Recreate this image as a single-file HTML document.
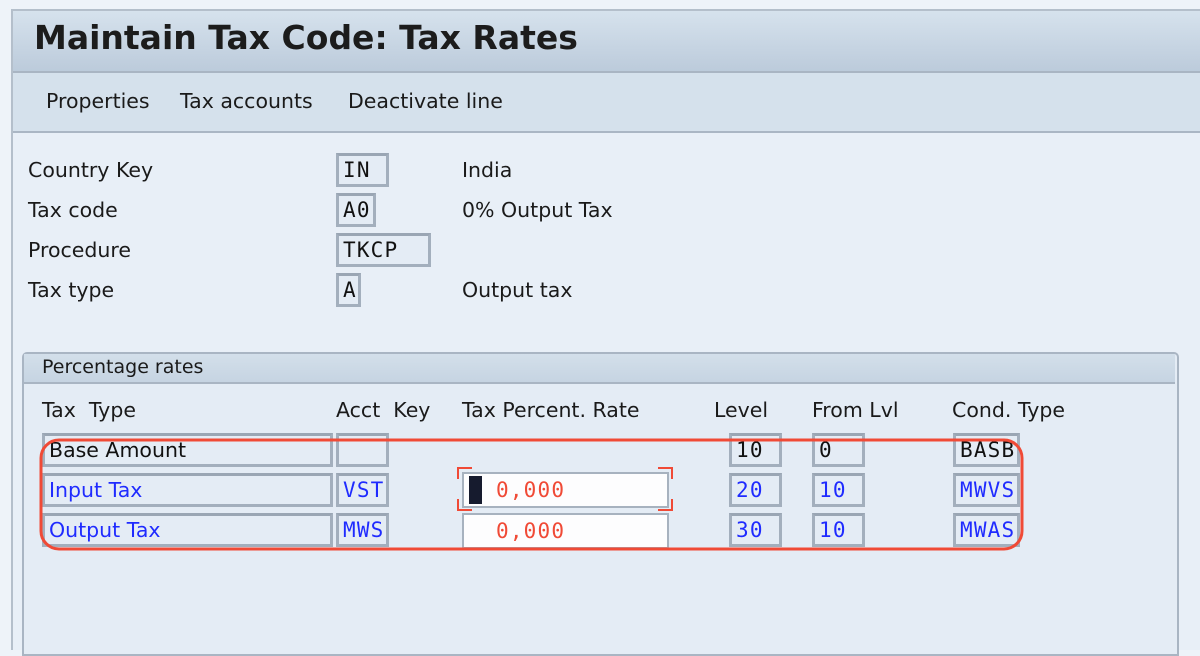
<!DOCTYPE html>
<html><head><meta charset="utf-8"><style>
body{margin:0;width:1200px;height:648px;background:#eef3f9;position:relative;overflow:hidden;font-family:"DejaVu Sans","Liberation Sans",sans-serif;}
.a{position:absolute;}
.lbl{position:absolute;font-size:20.5px;color:#1a1a1a;white-space:nowrap;}
.box{position:absolute;box-sizing:border-box;border:3px solid #a3afbd;border-top-color:#9aa6b4;background:#e4ecf5;font-family:"DejaVu Sans Mono","Liberation Mono",monospace;font-size:21px;letter-spacing:1.2px;line-height:28px;padding-left:4px;color:#111;white-space:nowrap;overflow:hidden;}
.box.s{font-family:"DejaVu Sans",sans-serif;font-size:20.5px;letter-spacing:0;}
.blue{color:#1f2bff;}
.inp{position:absolute;box-sizing:border-box;border:2px solid #a7b2bf;background:#fdfdfe;font-family:"DejaVu Sans Mono","Liberation Mono",monospace;font-size:21px;letter-spacing:1.2px;color:#f04a36;line-height:32px;padding-left:32px;}
</style></head><body>
<div class="a" style="left:11px;top:9px;width:1189px;height:639px;border-left:2px solid #b4bfcb;border-top:2px solid #b4bfcb;background:#e8eff7;"></div>
<div class="a" style="left:13px;top:11px;width:1187px;height:60px;background:linear-gradient(#d6e2ed,#bccbdb);border-bottom:2px solid #a9b5c3;"></div>
<div class="a" style="left:34px;top:18px;font-size:33px;font-weight:bold;color:#1c1c1c;white-space:nowrap;">Maintain Tax Code: Tax Rates</div>
<div class="a" style="left:13px;top:73px;width:1187px;height:58px;background:#d5e1ec;border-bottom:2px solid #aab6c4;"></div>
<div class="lbl" style="left:46px;top:89px;">Properties</div>
<div class="lbl" style="left:180px;top:89px;">Tax accounts</div>
<div class="lbl" style="left:348px;top:89px;">Deactivate line</div>

<div class="lbl" style="left:28px;top:158px;">Country Key</div>
<div class="box" style="left:336px;top:153px;width:53px;height:34px;">IN</div>
<div class="lbl" style="left:462px;top:158px;">India</div>
<div class="lbl" style="left:28px;top:198px;">Tax code</div>
<div class="box" style="left:336px;top:193px;width:40px;height:34px;">A0</div>
<div class="lbl" style="left:462px;top:198px;">0% Output Tax</div>
<div class="lbl" style="left:28px;top:238px;">Procedure</div>
<div class="box" style="left:336px;top:233px;width:95px;height:34px;">TKCP</div>
<div class="lbl" style="left:28px;top:278px;">Tax type</div>
<div class="box" style="left:336px;top:273px;width:25px;height:34px;">A</div>
<div class="lbl" style="left:462px;top:278px;">Output tax</div>

<div class="a" style="left:22px;top:352px;width:1153px;height:300px;border:2px solid #a9b5c3;border-radius:5px 5px 0 0;background:#e4ecf5;"></div>
<div class="a" style="left:24px;top:354px;width:1151px;height:28px;background:linear-gradient(#d3dfea,#c6d4e2);border-bottom:2px solid #a9b5c3;"></div>
<div class="lbl" style="left:42px;top:356px;font-size:19px;">Percentage rates</div>

<div class="lbl" style="left:42px;top:398px;">Tax &nbsp;Type</div>
<div class="lbl" style="left:336px;top:398px;">Acct &nbsp;Key</div>
<div class="lbl" style="left:462px;top:398px;">Tax Percent. Rate</div>
<div class="lbl" style="left:714px;top:398px;">Level</div>
<div class="lbl" style="left:812px;top:398px;">From Lvl</div>
<div class="lbl" style="left:952px;top:398px;">Cond. Type</div>

<div class="box s" style="left:42px;top:433px;width:291px;height:34px;">Base Amount</div>
<div class="box" style="left:336px;top:433px;width:53px;height:34px;"></div>
<div class="box" style="left:729px;top:433px;width:53px;height:34px;">10</div>
<div class="box" style="left:812px;top:433px;width:53px;height:34px;">0</div>
<div class="box" style="left:953px;top:433px;width:67px;height:34px;">BASB</div>

<div class="box s blue" style="left:42px;top:473px;width:291px;height:34px;">Input Tax</div>
<div class="box blue" style="left:336px;top:473px;width:53px;height:34px;">VST</div>
<div class="inp" style="left:462px;top:472px;width:207px;height:36px;">0,000</div>
<div class="a" style="left:469px;top:476px;width:13px;height:28px;background:#161b2e;"></div>
<div class="box blue" style="left:729px;top:473px;width:53px;height:34px;">20</div>
<div class="box blue" style="left:812px;top:473px;width:53px;height:34px;">10</div>
<div class="box blue" style="left:953px;top:473px;width:67px;height:34px;">MWVS</div>

<div class="box s blue" style="left:42px;top:513px;width:291px;height:34px;">Output Tax</div>
<div class="box blue" style="left:336px;top:513px;width:53px;height:34px;">MWS</div>
<div class="inp" style="left:462px;top:513px;width:207px;height:36px;">0,000</div>
<div class="box blue" style="left:729px;top:513px;width:53px;height:34px;">30</div>
<div class="box blue" style="left:812px;top:513px;width:53px;height:34px;">10</div>
<div class="box blue" style="left:953px;top:513px;width:67px;height:34px;">MWAS</div>

<svg class="a" style="left:0;top:0" width="1200" height="648">
<rect x="41" y="440" width="981" height="109" rx="18" fill="none" stroke="#f04a36" stroke-width="3"/>
<g stroke="#f04a36" stroke-width="2" fill="none">
<path d="M458 479V468H472"/><path d="M658 468H672V479"/><path d="M458 499V510H472"/><path d="M658 510H672V499"/>
</g></svg>
</body></html>
